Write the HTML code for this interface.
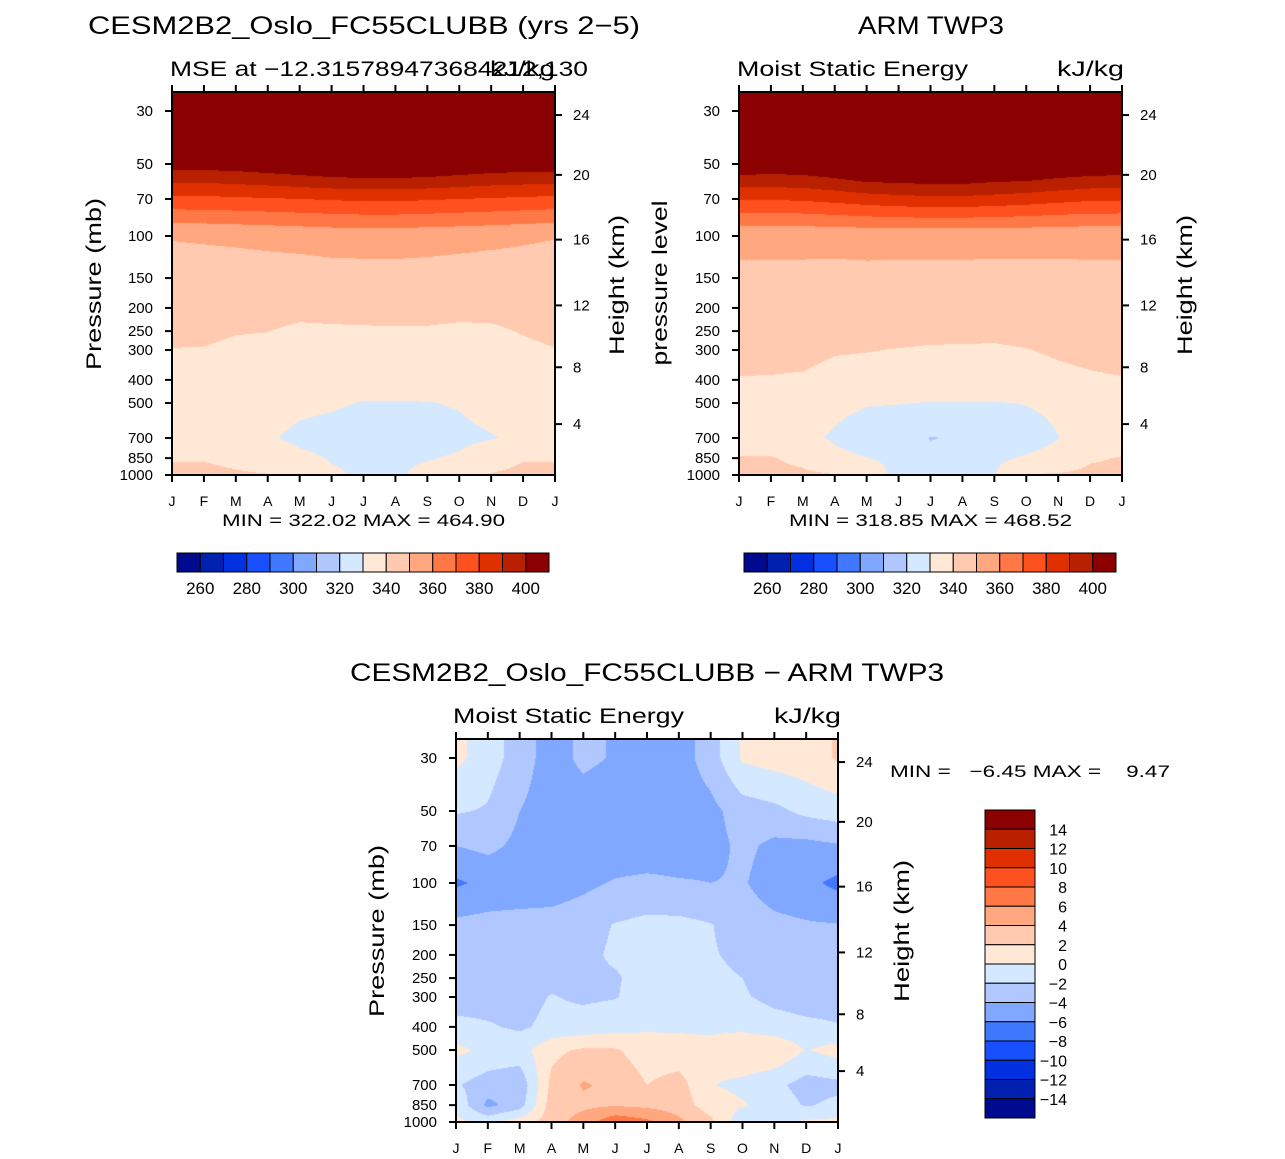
<!DOCTYPE html>
<html><head><meta charset="utf-8">
<style>
html,body{margin:0;padding:0;background:#fff;}
#wrap{position:relative;width:1285px;height:1159px;overflow:hidden;font-family:"Liberation Sans",sans-serif;}
canvas{position:absolute;}
svg{position:absolute;left:0;top:0;}
text{font-family:"Liberation Sans",sans-serif;fill:#000;}
</style></head>
<body>
<div id="wrap">
<canvas id="c1"></canvas>
<canvas id="c2"></canvas>
<canvas id="c3"></canvas>
<svg id="svg" width="1285" height="1159">
<text x="88" y="34" font-size="25" textLength="552" lengthAdjust="spacingAndGlyphs">CESM2B2_Oslo_FC55CLUBB (yrs 2−5)</text>
<text x="170" y="76" font-size="21" textLength="418" lengthAdjust="spacingAndGlyphs">MSE at −12.315789473684212,130</text>
<text x="490" y="76" font-size="21" textLength="65" lengthAdjust="spacingAndGlyphs">kJ/kg</text>
<text x="858" y="34" font-size="25" textLength="146" lengthAdjust="spacingAndGlyphs">ARM TWP3</text>
<text x="737" y="76" font-size="21" textLength="231" lengthAdjust="spacingAndGlyphs">Moist Static Energy</text>
<text x="1057" y="76" font-size="21" textLength="67" lengthAdjust="spacingAndGlyphs">kJ/kg</text>
<text x="350" y="681" font-size="25" textLength="594" lengthAdjust="spacingAndGlyphs">CESM2B2_Oslo_FC55CLUBB − ARM TWP3</text>
<text x="453" y="723" font-size="21" textLength="231" lengthAdjust="spacingAndGlyphs">Moist Static Energy</text>
<text x="774" y="723" font-size="21" textLength="67" lengthAdjust="spacingAndGlyphs">kJ/kg</text>
<text x="222" y="526" font-size="17" textLength="283" lengthAdjust="spacingAndGlyphs">MIN = 322.02 MAX = 464.90</text>
<text x="789" y="526" font-size="17" textLength="283" lengthAdjust="spacingAndGlyphs">MIN = 318.85 MAX = 468.52</text>
<text x="890" y="777" font-size="17" textLength="280" lengthAdjust="spacingAndGlyphs" xml:space="preserve">MIN =   −6.45 MAX =    9.47</text>
<text transform="translate(101,284) rotate(-90)" text-anchor="middle" font-size="21" textLength="172" lengthAdjust="spacingAndGlyphs">Pressure (mb)</text>
<text transform="translate(624,285) rotate(-90)" text-anchor="middle" font-size="21" textLength="140" lengthAdjust="spacingAndGlyphs">Height (km)</text>
<text transform="translate(667,283) rotate(-90)" text-anchor="middle" font-size="21" textLength="165" lengthAdjust="spacingAndGlyphs">pressure level</text>
<text transform="translate(1192,285) rotate(-90)" text-anchor="middle" font-size="21" textLength="140" lengthAdjust="spacingAndGlyphs">Height (km)</text>
<text transform="translate(384,931) rotate(-90)" text-anchor="middle" font-size="21" textLength="172" lengthAdjust="spacingAndGlyphs">Pressure (mb)</text>
<text transform="translate(909,931) rotate(-90)" text-anchor="middle" font-size="21" textLength="142" lengthAdjust="spacingAndGlyphs">Height (km)</text>
</svg>
</div>
<script>
const PRESS=[30,50,70,100,150,200,250,300,400,500,700,850,1000];
const MONTHS=["J","F","M","A","M","J","J","A","S","O","N","D","J"];
const HEIGHT_LABELS=["24","20","16","12","8","4"];
const HEIGHT_PRESS=[31.2,55.5,103.6,195.2,354.2,612.4];
const MSE_COLORS=["#000a8f","#0020b0","#0030e0","#1850ff","#4078ff","#80a8ff","#b0c8ff","#d4e8ff","#ffe8d5","#ffcab0","#ffa880","#ff7845","#ff5020","#e03000","#b82000","#8b0000"];
const MSE_TICKS=[260,280,300,320,340,360,380,400];
const DIFF_TICKS=[14,12,10,8,6,4,2,0,-2,-4,-6,-8,-10,-12,-14];
const mseModel=[
[450,450,450,450,450,450,450,450,450,450,450,450,450],
[404.6,404.6,405.4,407.2,409.2,411.3,412.2,412.2,411.3,409.2,407.2,406.4,406.7],
[377.7,377.7,378.5,379.2,380,380.9,381.7,381.7,380.9,380,379.2,378.4,377.5],
[350.5,350.9,351.5,352.2,353,353.8,354,354,353.6,353,352.2,351.2,350.3],
[346.3,346.3,346,346.1,345.9,346.5,346.6,346.7,346.4,345.9,345.6,345.9,346.3],
[343.6,343.6,342.8,342.7,341.9,342.3,342.4,342.5,342.4,341.9,341.9,342.8,343.6],
[341.5,341.5,340.4,340.1,338.8,339,339.2,339.3,339.3,338.8,339,340.4,341.5],
[339.8,339.7,338.6,338.4,337.5,337.8,337.9,338,338,337.5,337.6,338.7,339.8],
[338,338,337,336.5,335.5,335,334.5,334.5,334.5,335,335.5,336.5,338],
[335.5,335.5,335,334,332,331,329.6,329.6,329.7,330.6,333,334.5,335.5],
[333,333,332.5,331,328,327,326,326,327,328,329.5,331.5,333],
[339.5,339.5,338,336,332,329.5,329,329,329.5,331,336,339.5,339.5],
[342,342,341,340.3,336,331,329,329,332,337,340.5,342,342]];
const mseObs=[
[450,450,450,450,450,450,450,450,450,450,450,450,450],
[408.8,407.7,408.5,411.2,415.7,415.8,416.7,416.7,414.4,414.2,411.2,409.6,408.5],
[380.8,380.8,381.5,383.2,385.2,386.7,387.5,387.5,386.4,385,383.2,381.6,381.5],
[352.2,352.2,352.3,352.5,352.8,353,353,353,352.9,352.7,352.5,352.3,352.2],
[348.3,348.3,348.2,347.9,348,347.8,347.7,347.7,347.6,347.8,348,348.2,348.3],
[345.7,345.7,345.5,344.8,344.8,344.4,344.3,344.2,344.1,344.4,345,345.5,345.7],
[343.8,343.7,343.5,342.5,342.4,341.9,341.6,341.5,341.4,341.9,342.7,343.4,343.8],
[342.1,342,341.8,340.5,340.2,339.8,339.4,339.3,339.2,339.8,340.8,341.6,342.1],
[339.7,339.6,339.3,338,337.8,337.5,337,337,337,337.5,338.5,339.2,339.7],
[335,335,334,332,330.5,330.3,329.6,329.6,329.6,330.3,332,334,335],
[335,335,332,329,326,324,319.6,321,323,326,329.8,333,335],
[340.5,340.5,338,332,330.2,327,322,325,328,331,333,339,340.5],
[342,342,341.5,340.5,339.5,325,324,326,329.8,340.5,341,342,342]];
const mseDiff=[
[0.5,-1,-3,-5,-3.5,-4.2,-5,-5,-3,0.3,0.8,1.2,2.2],
[-1.8,-2.2,-4,-5,-5.2,-5.5,-5.9,-5.2,-4.6,-3,-2.5,-1.5,-1],
[-4,-3.5,-4.5,-5.2,-5.3,-5.4,-5.4,-5.3,-4.8,-3.5,-4.5,-4.6,-4.2],
[-6.3,-5.5,-5.3,-5.2,-4.5,-3.8,-3.5,-3.8,-4,-3.8,-5,-5.5,-6.5],
[-3.5,-3.3,-3.2,-3.1,-2.7,-1.9,-1.5,-1.5,-1.9,-3,-3.5,-3.8,-3.9],
[-3,-3,-3,-2.8,-2.5,-1.7,-1.3,-1.3,-1.8,-2.5,-3,-3,-3],
[-3,-3,-2.8,-2.5,-2.3,-2.2,-1.3,-1.2,-1.5,-2,-2.8,-3,-3],
[-2.8,-2.8,-2.7,-1.9,-2.3,-2.1,-1.2,-1,-1.2,-1.8,-2.5,-2.8,-2.7],
[-1.5,-1.8,-2.3,-1.5,-1.2,-0.8,-0.3,-0.3,-0.4,-0.5,-1.2,-1.6,-1.9],
[0.5,-0.5,-0.8,1.5,2.3,2.2,1.0,0.8,0.7,1.7,1.8,-0.1,0.8],
[-1.8,-3.0,-3.5,2.5,4.2,3.5,2.0,2.8,0.1,-0.5,-1.5,-2.8,-2.5],
[-0.5,-4.5,-3.0,3.0,3.5,3.8,3.5,3.0,1,0.2,-0.8,-2.2,-1.5],
[0.5,-0.5,1,3,5,7.5,6.5,4.5,2.5,-1.5,-0.5,0.3,0.5]];

const NS="http://www.w3.org/2000/svg";
const svg=document.getElementById('svg');
const LOGP=PRESS.map(p=>Math.log10(p));
function mk(tag,attrs){const e=document.createElementNS(NS,tag);for(const k in attrs)e.setAttribute(k,attrs[k]);svg.appendChild(e);return e;}

function drawPanel(id,box,grid,colorIndex,prefix){
  const {x0,y0,w,h,y30,y1000}=box;
  const scale=(y1000-y30)/(LOGP[12]-LOGP[0]);
  const yOf=p=>y30+scale*(Math.log10(p)-LOGP[0]);
  const xOf=i=>x0+i*w/12;
  const cv=document.getElementById(id);
  cv.width=w;cv.height=h;cv.style.left=x0+'px';cv.style.top=y0+'px';
  const ctx=cv.getContext('2d');
  const img=ctx.createImageData(w,h);
  const rgbs=MSE_COLORS.map(c=>[parseInt(c.substr(1,2),16),parseInt(c.substr(3,2),16),parseInt(c.substr(5,2),16)]);
  for(let py=0;py<h;py++){
    let lp=LOGP[0]+(y0+py+0.5-y30)/scale;
    lp=Math.max(LOGP[0],Math.min(LOGP[12],lp));
    let k=0;while(k<11&&lp>LOGP[k+1])k++;
    const ty=(lp-LOGP[k])/(LOGP[k+1]-LOGP[k]);
    for(let px=0;px<w;px++){
      const fx=Math.min(12,Math.max(0,(px+0.5)/w*12));
      let j=Math.min(11,Math.floor(fx));const tx=fx-j;
      const a=grid[k][j]*(1-tx)+grid[k][j+1]*tx;
      const b=grid[k+1][j]*(1-tx)+grid[k+1][j+1]*tx;
      const v=a*(1-ty)+b*ty;
      const c=rgbs[colorIndex(v)];
      const o=(py*w+px)*4;img.data[o]=c[0];img.data[o+1]=c[1];img.data[o+2]=c[2];img.data[o+3]=255;
    }
  }
  ctx.putImageData(img,0,0);
  const frame=mk('rect',{x:x0,y:y0,width:w,height:h,fill:'none',stroke:'#000','stroke-width':2});
  
  
  MONTHS.forEach((m,i)=>{
    const x=xOf(i);
    const t1=mk('line',{x1:x,x2:x,y1:y0,y2:y0-7,stroke:'#000','stroke-width':2});
    
    
    const t2=mk('line',{x1:x,x2:x,y1:y0+h,y2:y0+h+7,stroke:'#000','stroke-width':2});
    
    
    const tl=mk('text',{x:x,y:y0+h+31,'text-anchor':'middle','font-size':14});
    tl.textContent=m;
    
    
  });
  PRESS.forEach(p=>{
    const y=yOf(p);
    const t=mk('line',{x1:x0,x2:x0-7,y1:y,y2:y,stroke:'#000','stroke-width':2});
    
    
    const tl=mk('text',{x:x0-19,y:y+5,'text-anchor':'end','font-size':15});
    tl.textContent=String(p);
    
    
  });
  HEIGHT_PRESS.forEach((p,i)=>{
    const y=yOf(p);
    const t=mk('line',{x1:x0+w,x2:x0+w+7,y1:y,y2:y,stroke:'#000','stroke-width':2});
    
    
    const tl=mk('text',{x:x0+w+18,y:y+5,'font-size':15});
    tl.textContent=HEIGHT_LABELS[i];
    
    
  });
}
const mseIdx=v=>Math.max(0,Math.min(15,Math.floor((v-250)/10)));
const diffIdx=v=>Math.max(0,Math.min(15,Math.floor((v+16)/2)));
drawPanel('c1',{x0:172,y0:92,w:383,h:383,y30:111,y1000:475},mseModel,mseIdx,'model');
drawPanel('c2',{x0:739,y0:92,w:383,h:383,y30:111,y1000:475},mseObs,mseIdx,'obs');
drawPanel('c3',{x0:456,y0:739,w:382,h:383,y30:758,y1000:1122},mseDiff,diffIdx,'diff');

function hbar(x0,y0,w,h,prefix){
  const bw=w/16;
  MSE_COLORS.forEach((c,i)=>{
    const r=mk('rect',{x:x0+i*bw,y:y0,width:bw,height:h,fill:c,stroke:'#000','stroke-width':1});
    
    
  });
  MSE_TICKS.forEach((t,i)=>{
    const tl=mk('text',{x:x0+(1+2*i)*bw,y:y0+h+22,'text-anchor':'middle','font-size':17});
    tl.textContent=String(t);
    
    
  });
}
hbar(177,553,372,19,'model');
hbar(744,553,372,19,'obs');
(function(){
  const x0=985,y0=810,w=50,h=308,bh=h/16;
  MSE_COLORS.slice().reverse().forEach((c,i)=>{
    const r=mk('rect',{x:x0,y:y0+i*bh,width:w,height:bh,fill:c,stroke:'#000','stroke-width':1});
    
    
  });
  DIFF_TICKS.forEach((t,i)=>{
    const tl=mk('text',{x:1067,y:y0+(i+1)*bh+6,'text-anchor':'end','font-size':16});
    tl.textContent=(t<0?'−'+(-t):String(t));
    
    
  });
})();
</script>
</body></html>
